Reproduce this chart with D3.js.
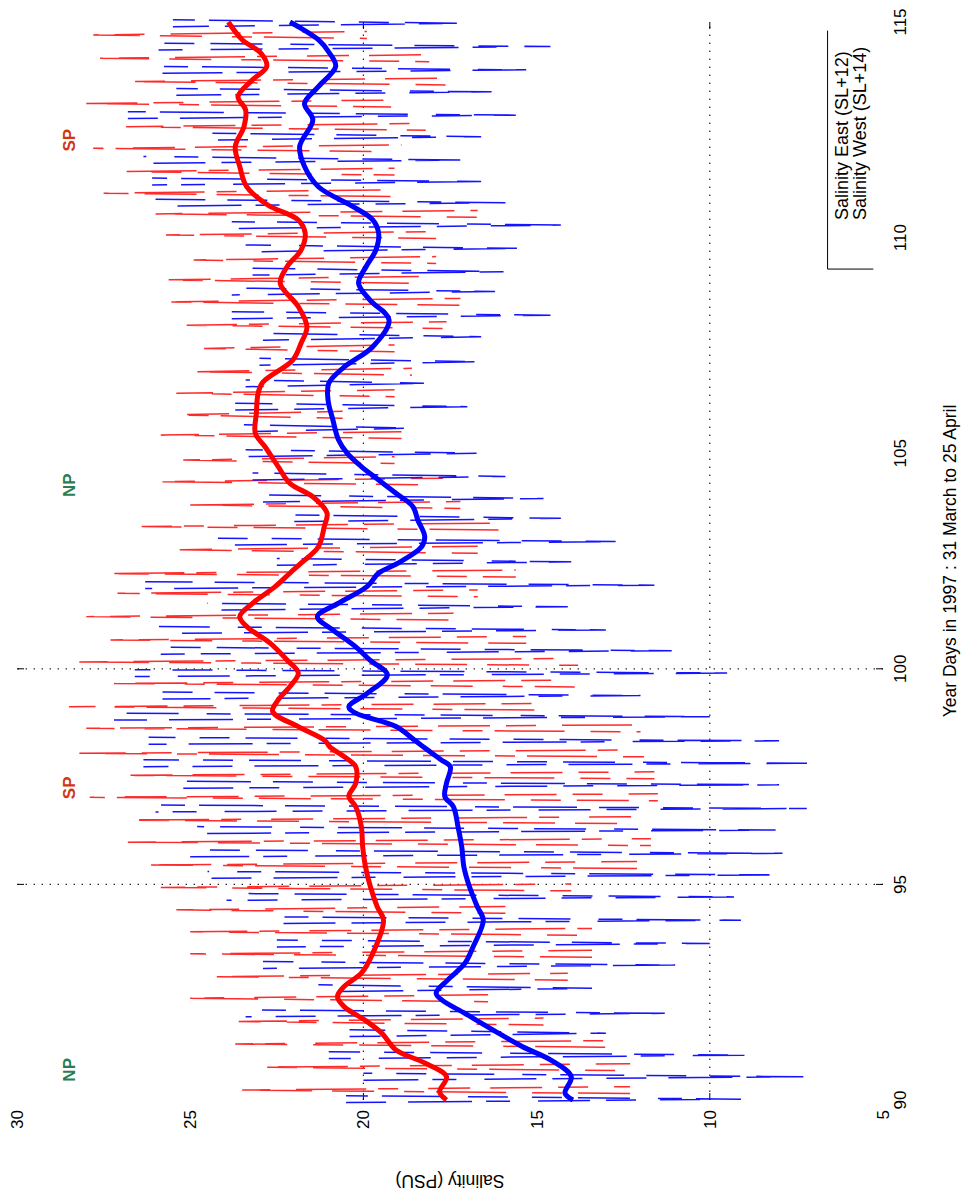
<!DOCTYPE html>
<html><head><meta charset="utf-8">
<script src="https://cdn.jsdelivr.net/npm/d3@7"></script>
<style>html,body{margin:0;padding:0;background:#fff}svg{display:block}text{font-family:"Liberation Sans",Arial,sans-serif}</style>
</head><body>
<script>
// ---- data ----
const salTicks = [5, 10, 15, 20, 25, 30];
const dayTicks = [90, 95, 100, 105, 110, 115];
const salGrid = [10, 20];
const dayGrid = [95, 100];
const xLabel = "Year Days in 1997 : 31 March to 25 April";
const yLabel = "Salinity (PSU)";
const legendLabels = ["Salinity East (SL+12)", "Salinity West (SL+14)"];
const tideLabels = ["NP", "SP", "NP", "SP"];
const tideDays = [90.7, 97.24, 104.26, 112.26];
const tideColors = ["#2b7d4f", "#d0380f", "#2b7d4f", "#d0380f"];

// thin East series: per tidal cycle time, peak and base salinity
const eastCycleDays = [90.23,90.76,91.30,91.82,92.36,92.86,93.39,93.90,94.41,94.93,95.45,95.98,96.49,97.02,97.53,98.04,
  98.62,99.12,99.66,100.16,100.67,101.21,101.75,102.21,102.76,103.30,103.80,104.34,104.84,105.42,105.89,106.39,
  106.89,107.43,107.97,108.51,109.02,109.48,110.06,110.55,111.03,111.53,112.07,112.57,113.11,113.62,114.16,114.70];
const eastPeaks = [23.5,23.0,23.7,23.6,25.0,24.3,25.0,25.0,25.4,25.85,26.3,26.8,26.85,27.9,27.1,28.2,
  28.0,28.5,27.2,28.2,27.3,28.0,27.1,27.5,25.5,26.4,25.0,25.8,25.2,25.85,25.5,25.4,
  24.9,24.6,25.1,25.9,25.85,24.9,25.7,26.0,27.5,26.85,27.8,26.85,28.0,26.7,27.6,27.8];
const eastBases = [12.3,12.3,12.5,14.8,16.4,14.1,13.4,13.4,15.9,14.0,12.1,11.7,12.1,11.5,11.6,11.9,
  12.0,14.4,13.9,13.8,15.3,17.4,16.7,15.6,16.7,16.1,17.2,17.7,19.1,18.9,20.6,19.1,
  18.6,19.1,17.6,17.2,18.4,17.9,17.9,16.7,19.1,19.1,18.9,18.2,19.2,17.6,18.1,19.9];

// thin West series: per tidal cycle time, trough and base salinity
const westCycleDays = [90.02,90.54,91.04,91.55,92.01,92.59,93.13,93.63,94.17,94.71,95.22,95.72,96.26,96.76,97.31,97.81,
  98.33,98.89,99.38,99.90,100.42,100.90,101.44,101.94,102.48,102.95,103.49,103.95,104.46,105.00,105.58,106.08,
  106.62,107.12,107.70,108.20,108.75,109.21,109.75,110.29,110.81,111.30,111.80,112.34,112.84,113.38,113.89,114.43,114.97];
const westTroughs = [9.1,7.3,9.0,13.0,11.3,13.4,11.0,10.0,9.1,9.3,8.05,7.9,8.1,7.2,8.0,7.0,
  8.0,10.0,12.0,9.5,11.1,13.0,14.1,11.6,14.0,12.7,14.3,14.8,15.9,16.7,18.6,17.0,
  18.2,16.7,16.6,14.6,16.2,15.9,15.5,14.3,15.9,16.4,17.1,16.6,15.6,16.3,15.3,14.6,17.1];
const westBases = [20.5,20.0,21.0,20.4,23.4,21.3,22.9,22.5,23.0,23.95,24.5,25.0,24.8,26.0,25.2,26.35,
  26.2,27.2,25.8,26.6,25.85,25.9,24.5,26.3,22.5,24.2,22.4,22.9,23.2,23.4,23.45,23.7,
  23.4,23.0,22.9,23.8,23.8,23.2,23.4,23.8,26.0,26.1,26.35,24.4,26.8,25.4,25.8,26.0,25.5];

// smoothed series
const eastSmoothDays = [90.0,90.19,90.54,90.86,91.16,91.55,91.86,92.16,92.40,92.63,92.94,93.40,94.17,94.48,94.95,95.41,95.87,96.34,96.80,97.04,97.35,97.73,97.96,98.19,98.33,98.66,99.01,99.28,99.59,99.90,100.20,100.60,100.98,101.21,101.52,101.91,102.22,102.45,102.83,103.30,103.61,103.99,104.30,104.69,105.15,105.46,105.93,106.39,106.65,107.16,107.55,107.93,108.40,108.94,109.33,109.71,110.10,110.41,110.75,111.18,111.65,112.11,112.57,112.96,113.27,113.66,113.97,114.27,114.59,115.0];
const eastSmooth = [17.6,17.8,17.6,18.23,19.06,19.47,19.97,20.55,20.75,20.56,20.06,19.73,19.42,19.6,19.8,19.94,20.02,20.06,20.22,20.42,20.22,20.22,20.55,20.97,21.1,21.88,22.62,22.46,22.12,21.88,22.2,22.7,23.37,23.57,23.2,22.54,22.12,21.8,21.3,21.13,21.05,21.46,22.12,22.46,22.84,23.12,23.09,23.04,22.9,22.04,21.8,21.63,21.88,22.4,22.2,21.8,21.68,21.88,22.75,23.37,23.57,23.7,23.45,23.4,23.62,23.2,22.79,22.95,23.5,23.9];
const westSmoothDays = [90.0,90.16,90.54,90.93,91.24,91.62,92.01,92.32,92.48,92.78,93.17,93.56,94.17,94.48,94.95,95.41,95.87,96.34,96.80,97.04,97.35,97.73,97.88,98.12,98.33,98.66,98.97,99.12,99.43,99.86,100.20,100.51,100.90,101.21,101.52,101.91,102.22,102.45,102.83,103.07,103.45,103.76,104.07,104.38,104.69,105.00,105.31,105.77,106.23,106.62,107.00,107.47,108.09,108.55,108.94,109.33,109.71,110.10,110.41,110.72,111.18,111.65,112.11,112.73,113.11,113.50,113.97,114.27,114.59,115.0];
const westSmooth = [13.95,14.18,14.0,14.6,15.42,16.25,17.07,17.74,17.9,17.57,17.07,16.83,16.54,16.71,16.94,17.1,17.16,17.27,17.4,17.65,17.6,17.49,17.74,18.15,18.5,19.06,20.22,20.42,19.89,19.31,19.81,20.22,20.88,21.33,20.72,19.89,19.56,19.0,18.32,18.23,18.43,18.57,19.06,19.56,20.06,20.47,20.72,20.88,21.02,21.0,20.55,19.73,19.26,19.81,20.14,19.92,19.64,19.56,19.73,20.3,21.3,21.7,21.84,21.46,21.7,21.3,20.8,20.97,21.3,22.12];

// ---- drawing ----
const W = 962, H = 1191;
const svg = d3.select("body").append("svg").attr("width", W).attr("height", H);
svg.append("rect").attr("width", W).attr("height", H).attr("fill", "#fff");

const PW = 1078, PH = 866;
// chart drawn in its own frame, then turned a quarter turn counter-clockwise
const g = svg.append("g").attr("transform", "translate(17,1100) rotate(-90)");
const x = d3.scaleLinear().domain([90, 115]).range([0, PW]);
const y = d3.scaleLinear().domain([5, 30]).range([PH, 0]);

// grid (dotted) with solid end ticks
const gridStyle = s => s.attr("stroke", "#222").attr("stroke-width", 1.2).attr("stroke-dasharray", "1.4,6.6");
salGrid.forEach(v => {
  g.append("line").attr("x1", x(90)).attr("x2", x(115)).attr("y1", y(v)).attr("y2", y(v)).call(gridStyle);
  g.append("line").attr("x1", x(90)).attr("x2", x(90) + 7).attr("y1", y(v)).attr("y2", y(v)).attr("stroke", "#000");
  g.append("line").attr("x1", x(115) - 7).attr("x2", x(115)).attr("y1", y(v)).attr("y2", y(v)).attr("stroke", "#000");
});
dayGrid.forEach(v => {
  g.append("line").attr("x1", x(v)).attr("x2", x(v)).attr("y1", y(5)).attr("y2", y(30)).call(gridStyle);
  g.append("line").attr("x1", x(v)).attr("x2", x(v)).attr("y1", y(30)).attr("y2", y(30) + 7).attr("stroke", "#000");
  g.append("line").attr("x1", x(v)).attr("x2", x(v)).attr("y1", y(5) - 7).attr("y2", y(5)).attr("stroke", "#000");
});

const line = d3.line().x(d => x(d[0])).y(d => y(d[1]));
const half = 0.08;
function drawThin(days, ext, base, color, dash, seed) {
  days.forEach((t, i) => {
    const pts = [[t - half, base[i]], [t, ext[i]], [t + half, base[i]]];
    g.append("path").attr("d", line(pts)).attr("fill", "none")
      .attr("stroke", color).attr("stroke-width", 1.5)
      .attr("stroke-dasharray", dash).attr("stroke-dashoffset", (i * seed) % 400);
  });
}
drawThin(eastCycleDays, eastPeaks, eastBases, "#ff2a2a", "52,16,30,26,70,12,20,30,42,20", 53);
drawThin(westCycleDays, westTroughs, westBases, "#1414ff", "40,22,64,14,24,28,52,16,30,24", 71);

const smooth = d3.line().x(d => x(d[0])).y(d => y(d[1])).curve(d3.curveCatmullRom);
g.append("path").attr("d", smooth(eastSmoothDays.map((d, i) => [d, eastSmooth[i]])))
  .attr("fill", "none").attr("stroke", "#ff0000").attr("stroke-width", 5).attr("stroke-linejoin", "round");
g.append("path").attr("d", smooth(westSmoothDays.map((d, i) => [d, westSmooth[i]])))
  .attr("fill", "none").attr("stroke", "#0000ff").attr("stroke-width", 5).attr("stroke-linejoin", "round");

// tick labels
const fs = 17;
salTicks.forEach(v => g.append("text").attr("x", -10).attr("y", y(v)).attr("dy", "0.35em")
  .attr("text-anchor", "end").attr("font-size", fs).text(v));
dayTicks.forEach(v => g.append("text").attr("x", x(v)).attr("y", PH + 23)
  .attr("text-anchor", "middle").attr("font-size", fs).text(v));
g.append("text").attr("x", PW / 2).attr("y", PH + 73).attr("text-anchor", "middle").attr("font-size", 17.5).text(xLabel);
g.append("text").attr("transform", `translate(-75,${PH / 2}) rotate(-90)`).attr("text-anchor", "middle")
  .attr("font-size", 17.5).text(yLabel);

// tide phase labels
tideLabels.forEach((s, i) => g.append("text").attr("x", x(tideDays[i])).attr("y", y(28.33))
  .attr("text-anchor", "middle").attr("font-size", 17).attr("font-weight", "bold")
  .attr("fill", tideColors[i]).text(s));

// legend (text only, partial frame)
g.append("path").attr("d", `M${x(109.27)},${y(5.28)}V${y(6.6)}H${x(114.8)}`).attr("fill", "none").attr("stroke", "#000");
legendLabels.forEach((s, i) => g.append("text").attr("x", x(110.41)).attr("y", y(6.6) + 20 + i * 18)
  .attr("font-size", 18).text(s));
</script>
</body></html>
